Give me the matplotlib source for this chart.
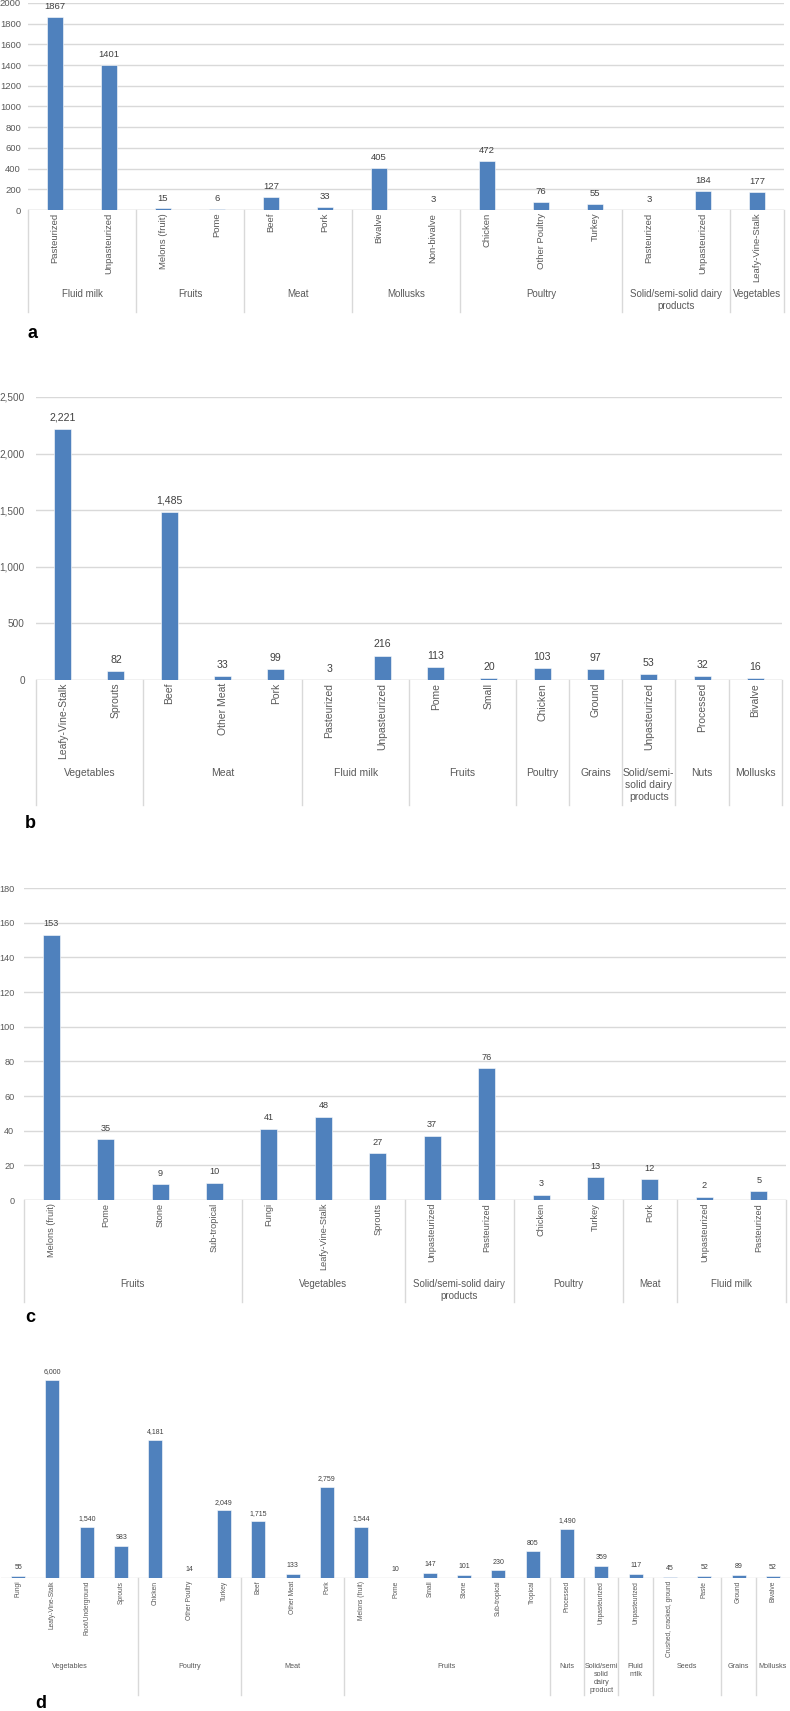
import matplotlib
matplotlib.use("Agg")
import matplotlib.pyplot as plt
import matplotlib.transforms as mtransforms
from matplotlib.ticker import FuncFormatter, MultipleLocator

plt.rcParams['font.family'] = ['Liberation Sans', 'DejaVu Sans']

# panel a
a_labels = ["Pasteurized", "Unpasteurized", "Melons (fruit)", "Pome", "Beef", "Pork",
            "Bivalve", "Non-bivalve", "Chicken", "Other Poultry", "Turkey",
            "Pasteurized", "Unpasteurized", "Leafy-Vine-Stalk"]
a_values = [1867, 1401, 15, 6, 127, 33, 405, 3, 472, 76, 55, 3, 184, 177]
a_groups = ["Fluid milk", "Fruits", "Meat", "Mollusks", "Poultry",
            "Solid/semi-solid dairy\nproducts", "Vegetables"]
a_sizes = [2, 2, 2, 2, 3, 2, 1]

# panel b
b_labels = ["Leafy-Vine-Stalk", "Sprouts", "Beef", "Other Meat", "Pork", "Pasteurized",
            "Unpasteurized", "Pome", "Small", "Chicken", "Ground", "Unpasteurized",
            "Processed", "Bivalve"]
b_values = [2221, 82, 1485, 33, 99, 3, 216, 113, 20, 103, 97, 53, 32, 16]
b_groups = ["Vegetables", "Meat", "Fluid milk", "Fruits", "Poultry", "Grains",
            "Solid/semi-\nsolid dairy\nproducts", "Nuts", "Mollusks"]
b_sizes = [2, 3, 2, 2, 1, 1, 1, 1, 1]

# panel c
c_labels = ["Melons (fruit)", "Pome", "Stone", "Sub-tropical", "Fungi", "Leafy-Vine-Stalk",
            "Sprouts", "Unpasteurized", "Pasteurized", "Chicken", "Turkey", "Pork",
            "Unpasteurized", "Pasteurized"]
c_values = [153, 35, 9, 10, 41, 48, 27, 37, 76, 3, 13, 12, 2, 5]
c_groups = ["Fruits", "Vegetables", "Solid/semi-solid dairy\nproducts", "Poultry",
            "Meat", "Fluid milk"]
c_sizes = [4, 3, 2, 2, 1, 2]

# panel d
d_labels = ["Fungi", "Leafy-Vine-Stalk", "Root/Underground", "Sprouts", "Chicken",
            "Other Poultry", "Turkey", "Beef", "Other Meat", "Pork", "Melons (fruit)",
            "Pome", "Small", "Stone", "Sub-tropical", "Tropical", "Processed",
            "Unpasteurized", "Unpasteurized", "Crushed, cracked, ground", "Paste",
            "Ground", "Bivalve"]
d_values = [55, 6000, 1540, 983, 4181, 14, 2049, 1715, 133, 2759, 1544, 10, 147, 101,
            230, 805, 1490, 359, 117, 45, 52, 89, 52]
d_groups = ["Vegetables", "Poultry", "Meat", "Fruits", "Nuts",
            "Solid/semi\nsolid\ndairy\nproduct", "Fluid\nmilk", "Seeds", "Grains", "Mollusks"]
d_sizes = [4, 3, 3, 6, 1, 1, 1, 2, 1, 1]

W, H = 790, 1711
BLUE = "#4f81bd"
GRID = "#d9d9d9"
TXT = "#595959"

fig = plt.figure(figsize=(W / 100, H / 100), dpi=100)


def fy(ypx):
    return 1 - ypx / H


def panel(box, labels, values, groups, sizes, ymax, step, fs, vfs, gfs,
          sep_bottom, group_y, line_px, width, voff, comma=False, yaxis=True, ends=True,
          ytick_pad=5, yfs=None):
    left, top, right, bottom = box
    ax = fig.add_axes([left / W, fy(bottom), (right - left) / W, (bottom - top) / H])
    n = len(values)
    x = list(range(n))
    ax.bar(x, values, width=width, color=BLUE, edgecolor="white", linewidth=0.4, zorder=3)
    ax.set_xlim(-0.5, n - 0.5)
    ax.set_ylim(0, ymax)
    for s in ax.spines.values():
        s.set_visible(False)
    ax.axhline(0, color=GRID, lw=1, zorder=2)
    fmt = (lambda v: f"{v:,}") if comma else (lambda v: f"{v}")
    if yaxis:
        ax.yaxis.set_major_locator(MultipleLocator(step))
        ax.yaxis.set_major_formatter(FuncFormatter(lambda v, p: fmt(int(v))))
        ax.yaxis.grid(True, color=GRID, lw=1)
        ax.tick_params(axis="y", length=0, labelsize=yfs or fs, labelcolor=TXT,
                       pad=ytick_pad)
    else:
        ax.set_yticks([])
    ax.set_axisbelow(True)
    ax.set_xticks(x)
    ax.set_xticklabels(labels, rotation=90, fontsize=fs, color=TXT)
    ax.tick_params(axis="x", length=0, pad=2)
    for xi, v in zip(x, values):
        ax.annotate(fmt(v), (xi, v), xytext=(0, voff), textcoords="offset points",
                    ha="center", va="center", fontsize=vfs, color="#404040")
    # group separators and labels under the category axis
    tr = mtransforms.blended_transform_factory(ax.transData, fig.transFigure)
    edges = [-0.5]
    for s in sizes:
        edges.append(edges[-1] + s)
    lines = edges if ends else edges[1:-1]
    for e in lines:
        ax.plot([e, e], [fy(bottom), fy(sep_bottom)], transform=tr, color=GRID,
                lw=1, clip_on=False)
    for g, a0, a1 in zip(groups, edges[:-1], edges[1:]):
        ax.text((a0 + a1) / 2, fy(group_y - line_px / 2), g, transform=tr, ha="center",
                va="top", fontsize=gfs, color=TXT, linespacing=1.25)
    return ax


panel((28, 3, 784, 210), a_labels, a_values, a_groups, a_sizes, 2000, 200,
      6.8, 6.8, 7.0, 312, 294, 10, 0.3, 7.5, ytick_pad=5)
panel((36, 397, 782, 680), b_labels, b_values, b_groups, b_sizes, 2500, 500,
      7.5, 7.6, 7.5, 805, 773, 10.5, 0.32, 8, comma=True, ytick_pad=8, yfs=7.2)
panel((24, 888, 786, 1200), c_labels, c_values, c_groups, c_sizes, 180, 20,
      6.6, 6.6, 7.0, 1302, 1284, 10, 0.31, 8, ytick_pad=7)
d_top = 1350
panel((1, d_top, 790, 1578), d_labels, d_values, d_groups, d_sizes,
      6000 * (1578 - d_top) / (1578 - 1380), 1000, 4.8, 5.0, 5.2, 1695, 1666, 7,
      0.41, 6, comma=True, yaxis=False, ends=False)

for letter, xp, yp in [("a", 27, 333), ("b", 25, 823), ("c", 25, 1318), ("d", 35, 1704)]:
    fig.text(xp / W, fy(yp), letter, fontsize=13, fontweight="bold", ha="left",
             va="center", color="black")

fig.savefig("out.png", dpi=100)
